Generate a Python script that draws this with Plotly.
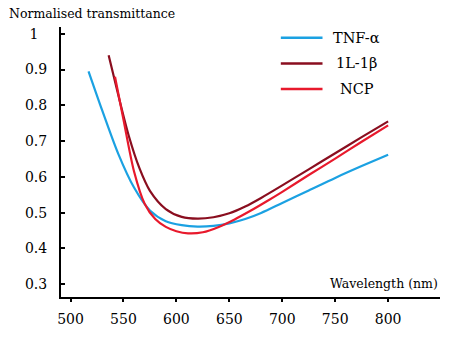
import plotly.graph_objects as go

# wavelength (nm) and normalised transmittance
tnf_x = [517, 530, 545, 560, 575, 590, 605, 620, 635, 650, 665, 680, 700, 725, 750, 775, 800]
tnf_y = [0.895, 0.785, 0.665, 0.57, 0.506, 0.476, 0.465, 0.461, 0.463, 0.470, 0.482, 0.499, 0.527, 0.562, 0.597, 0.63, 0.662]

il_x = [536, 545, 555, 565, 575, 590, 605, 620, 635, 650, 665, 680, 700, 725, 750, 775, 800]
il_y = [0.94, 0.83, 0.715, 0.625, 0.561, 0.51, 0.488, 0.483, 0.487, 0.498, 0.517, 0.541, 0.576, 0.621, 0.666, 0.711, 0.755]

ncp_x = [542, 550, 560, 570, 580, 590, 600, 611, 625, 640, 655, 670, 685, 700, 725, 750, 775, 800]
ncp_y = [0.88, 0.76, 0.615, 0.525, 0.482, 0.46, 0.448, 0.442, 0.445, 0.46, 0.481, 0.505, 0.531, 0.558, 0.605, 0.651, 0.698, 0.744]

names = ["TNF-α", "1L-1β", "NCP"]
colors = ["#1ba1e2", "#8a0e1f", "#e8192c"]
series = [(tnf_x, tnf_y), (il_x, il_y), (ncp_x, ncp_y)]

font = "DejaVu Serif"

fig = go.Figure()

for (xs, ys), name, col in zip(series, names, colors):
    fig.add_trace(
        go.Scatter(x=xs, y=ys, mode="lines", name=name,
                   line=dict(color=col, width=2.2, shape="spline", smoothing=0.8))
    )

# hand-placed legend, like the original
for i, (name, col) in enumerate(zip(names, colors)):
    yy = 0.96 - i * 0.095
    fig.add_shape(type="line", xref="paper", yref="paper",
                  x0=0.58, x1=0.69, y0=yy, y1=yy,
                  line=dict(color=col, width=2.5))
    fig.add_annotation(text=name, xref="paper", yref="paper", x=0.78, y=yy,
                       showarrow=False, xanchor="center", yanchor="middle",
                       font=dict(family=font, size=14.5, color="black"))

fig.add_annotation(text="Normalised transmittance", xref="paper", yref="paper",
                   x=-0.142, y=1.051, xanchor="left", yanchor="middle", showarrow=False,
                   font=dict(family=font, size=12.5, color="black"))
fig.add_annotation(text="Wavelength (nm)", xref="paper", yref="paper",
                   x=1.0, y=0.051, xanchor="right", yanchor="middle", showarrow=False,
                   font=dict(family=font, size=12.5, color="black"))

fig.update_layout(
    width=454, height=339,
    margin=dict(l=61, r=14, t=27, b=39),
    plot_bgcolor="white", paper_bgcolor="white",
    showlegend=False,
    font=dict(family=font, size=14, color="black"),
    xaxis=dict(range=[491, 849], tickvals=[500, 550, 600, 650, 700, 750, 800],
               showgrid=False, zeroline=False, showline=True, linecolor="black",
               linewidth=2, ticks="outside", ticklen=3, tickwidth=2, tickcolor="black",
               ticklabelstandoff=5),
    yaxis=dict(range=[0.264, 1.019], tickvals=[0.3, 0.4, 0.5, 0.6, 0.7, 0.8, 0.9, 1],
               ticktext=["0.3", "0.4", "0.5", "0.6", "0.7", "0.8", "0.9", "1  "],
               showgrid=False, zeroline=False, showline=True, linecolor="black",
               linewidth=2, ticks="inside", ticklen=4, tickwidth=2, tickcolor="black",
               ticklabelstandoff=9),
)

fig.write_html("out.html", config={"displayModeBar": False},
               post_script="document.body.style.margin='0';")
